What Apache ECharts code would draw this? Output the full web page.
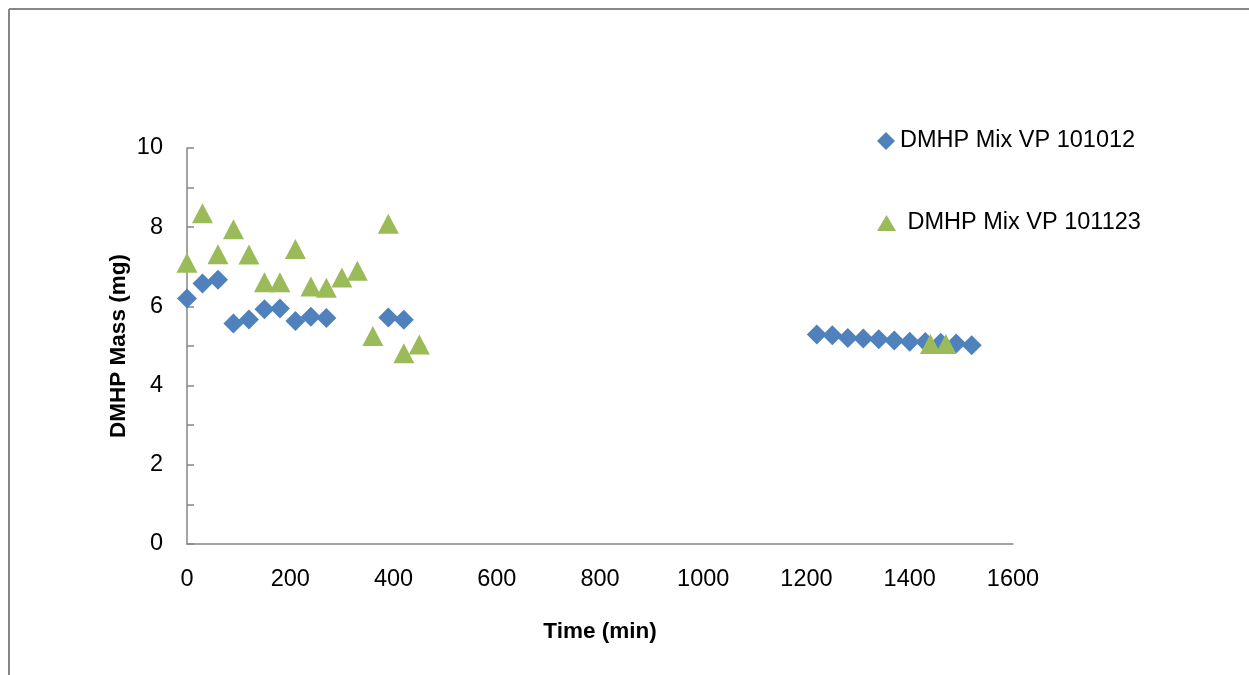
<!DOCTYPE html>
<html>
<head>
<meta charset="utf-8">
<script src="https://cdn.jsdelivr.net/npm/echarts@6/dist/echarts.min.js"></script>
<style>
html,body{margin:0;padding:0;background:#fff;}
#chart{width:1249px;height:675px;}
</style>
</head>
<body>
<div id="chart"></div>
<script>
// Series 1: DMHP Mix VP 101012 (time in min, mass in mg)
var time1012 = [0, 30, 60, 90, 120, 150, 180, 210, 240, 270, 390, 420,
                1220, 1250, 1280, 1310, 1340, 1370, 1400, 1430, 1460, 1490, 1520];
var mass1012 = [6.20, 6.58, 6.67, 5.57, 5.67, 5.93, 5.95, 5.63, 5.74, 5.71, 5.72, 5.66,
                5.29, 5.27, 5.20, 5.19, 5.17, 5.14, 5.11, 5.10, 5.08, 5.06, 5.02];
// Series 2: DMHP Mix VP 101123
var time1123 = [0, 30, 60, 90, 120, 150, 180, 210, 240, 270, 300, 330, 360, 390, 420, 450,
                1440, 1470];
var mass1123 = [7.10, 8.35, 7.32, 7.95, 7.31, 6.61, 6.61, 7.45, 6.50, 6.47, 6.73, 6.90, 5.25, 8.09, 4.82, 5.04,
                5.05, 5.05];
var xTicks = [0, 200, 400, 600, 800, 1000, 1200, 1400, 1600];
var yTicks = [0, 2, 4, 6, 8, 10];

function pairs(xs, ys) { return xs.map(function (x, i) { return [x, ys[i]]; }); }

var FONT = 'Liberation Sans';
var chart = echarts.init(document.getElementById('chart'));
chart.setOption({
  backgroundColor: '#fff',
  animation: false,
  textStyle: { fontFamily: FONT },
  graphic: [
    { type: 'line', shape: { x1: 9, y1: 9, x2: 1249, y2: 9 }, style: { stroke: '#868686', lineWidth: 2 } },
    { type: 'line', shape: { x1: 9, y1: 9, x2: 9, y2: 675 }, style: { stroke: '#868686', lineWidth: 2 } }
  ],
  grid: { left: 187, right: 236, top: 148, bottom: 131 },
  legend: [
    {
      data: ['DMHP Mix VP 101012'], orient: 'vertical', left: 872, top: 124,
      itemWidth: 18, itemHeight: 18, itemGap: 0,
      itemStyle: { opacity: 1 },
      textStyle: { fontFamily: FONT, fontSize: 23.5, color: '#000' }
    },
    {
      data: ['DMHP Mix VP 101123'], orient: 'vertical', left: 872, top: 206,
      itemWidth: 19, itemHeight: 16, itemGap: 0,
      itemStyle: { opacity: 1 },
      formatter: function (n) { return ' ' + n; },
      textStyle: { fontFamily: FONT, fontSize: 23.5, color: '#000' }
    }
  ],
  xAxis: {
    type: 'value', min: xTicks[0], max: xTicks[xTicks.length - 1], interval: 200,
    name: 'Time (min)', nameLocation: 'middle', nameGap: 76,
    nameTextStyle: { fontFamily: FONT, fontSize: 22.5, fontWeight: 'bold', color: '#000' },
    axisLine: { show: true, lineStyle: { color: '#868686', width: 1.5 } },
    axisTick: { show: false },
    splitLine: { show: false },
    axisLabel: { fontFamily: FONT, fontSize: 23.5, color: '#000', margin: 24,
                 formatter: function (v) { return String(v); } }
  },
  yAxis: {
    type: 'value', min: yTicks[0], max: yTicks[yTicks.length - 1], interval: 2,
    name: 'DMHP Mass (mg)', nameLocation: 'middle', nameGap: 57, nameRotate: 90,
    nameMoveOverlap: false,
    nameTextStyle: { fontFamily: FONT, fontSize: 22.5, fontWeight: 'bold', color: '#000' },
    axisLine: { show: true, lineStyle: { color: '#868686', width: 1.5 } },
    axisTick: { show: true, inside: true, length: 7, lineStyle: { color: '#868686', width: 1.5 } },
    minorTick: { show: true, splitNumber: 2, length: 7, lineStyle: { color: '#868686', width: 1.5 } },
    splitLine: { show: false },
    axisLabel: { fontFamily: FONT, fontSize: 23.5, color: '#000', margin: 24,
                 formatter: function (v) { return String(v); } }
  },
  series: [
    {
      name: 'DMHP Mix VP 101012', type: 'scatter', symbol: 'diamond', symbolSize: 20,
      itemStyle: { color: '#4F81BD', opacity: 1 },
      data: pairs(time1012, mass1012), z: 2
    },
    {
      name: 'DMHP Mix VP 101123', type: 'scatter', symbol: 'triangle', symbolSize: [21, 20],
      itemStyle: { color: '#9BBB59', opacity: 1 },
      data: pairs(time1123, mass1123), z: 3
    }
  ]
});
</script>
</body>
</html>
